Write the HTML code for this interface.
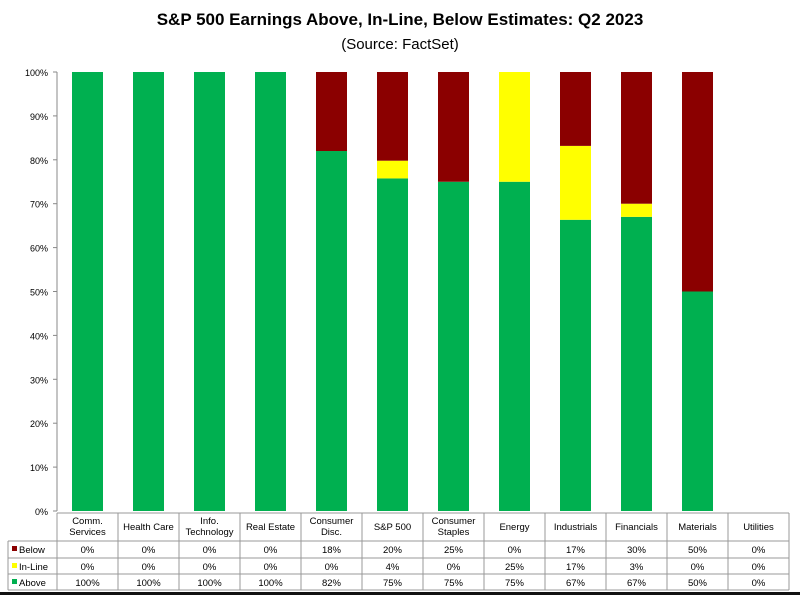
<!DOCTYPE html>
<html><head><meta charset="utf-8"><style>
body{margin:0;background:#fff;font-family:"Liberation Sans",sans-serif}
</style></head><body>
<svg id="c" width="800" height="595" xmlns="http://www.w3.org/2000/svg">
<text x="400" y="25" text-anchor="middle" font-size="17" font-weight="bold" font-family="Liberation Sans">S&amp;P 500 Earnings Above, In-Line, Below Estimates: Q2 2023</text>
<text x="400" y="49" text-anchor="middle" font-size="15" font-family="Liberation Sans">(Source: FactSet)</text>
<g id="g"></g>
</svg>
<script>
const categories=[["Comm.","Services"],["Health Care"],["Info.","Technology"],["Real Estate"],["Consumer","Disc."],["S&P 500"],["Consumer","Staples"],["Energy"],["Industrials"],["Financials"],["Materials"],["Utilities"]];
const below=[0,0,0,0,18,20,25,0,17,30,50,0];
const inline=[0,0,0,0,0,4,0,25,17,3,0,0];
const above=[100,100,100,100,82,75,75,75,67,67,50,0];
const yTicks=[0,10,20,30,40,50,60,70,80,90,100];
const NS="http://www.w3.org/2000/svg";
const g=document.getElementById('g');
const L=57,R=789,T=72,B=511,cw=(R-L)/categories.length;
const y=v=>B-(v/100)*(B-T);
const x=i=>L+i*cw;
function el(t,a,p){const e=document.createElementNS(NS,t);for(const k in a)e.setAttribute(k,a[k]);(p||g).appendChild(e);return e;}
yTicks.forEach(v=>{
 const t=el('text',{x:48,y:y(v)+4,'text-anchor':'end','font-size':9});t.textContent=v+'%';
 
 
 el('line',{x1:L-4,x2:L,y1:y(v),y2:y(v),stroke:'#888'});
});
el('line',{x1:L,x2:L,y1:T,y2:B,stroke:'#888'});
const cols={below:'#8b0000',inline:'#ffff00',above:'#00b050'};
categories.forEach((c,i)=>{
 const bx=x(i)+cw/2-15.5,bw=31;
 const tot=below[i]+inline[i]+above[i];
 if(tot<=0)return;
 const sc=100/tot;
 let base=0;
 [['above',above],['inline',inline],['below',below]].forEach(([k,arr])=>{
  const v=arr[i]*sc;if(v>0){
   const r=el('rect',{x:bx,y:y(base+v),width:bw,height:y(base)-y(base+v),fill:cols[k]});
   
   
  }
  base+=v;
 });
});
const rowsY=[513,541,558,574,590];
el('line',{x1:L,x2:R,y1:513,y2:513,stroke:'#999'});
for(let j=1;j<rowsY.length;j++)el('line',{x1:8,x2:R,y1:rowsY[j],y2:rowsY[j],stroke:'#999'});
el('line',{x1:8,x2:8,y1:541,y2:590,stroke:'#999'});
for(let i=0;i<=categories.length;i++)el('line',{x1:x(i),x2:x(i),y1:513,y2:590,stroke:'#999'});
categories.forEach((c,i)=>{
 const cx=x(i)+cw/2;
 c.forEach((ln,k)=>{const t=el('text',{x:cx,y:c.length==1?530:524+k*11,'text-anchor':'middle','font-size':9.5});t.textContent=ln;
  
  });
 [below,inline,above].forEach((arr,r)=>{
  const t=el('text',{x:cx,y:rowsY[r+1]+12,'text-anchor':'middle','font-size':9.5});t.textContent=arr[i]+'%';
  
  
 });
});
[['Below',cols.below],['In-Line',cols.inline],['Above',cols.above]].forEach(([n,cl],r)=>{
 const s=el('rect',{x:12,y:rowsY[r+1]+5,width:5,height:5,fill:cl});
 
 
 const t=el('text',{x:19,y:rowsY[r+1]+12,'font-size':9.5});t.textContent=n;
 
 
});
el('rect',{x:0,y:592,width:800,height:3,fill:'#111'});
</script>
</body></html>
